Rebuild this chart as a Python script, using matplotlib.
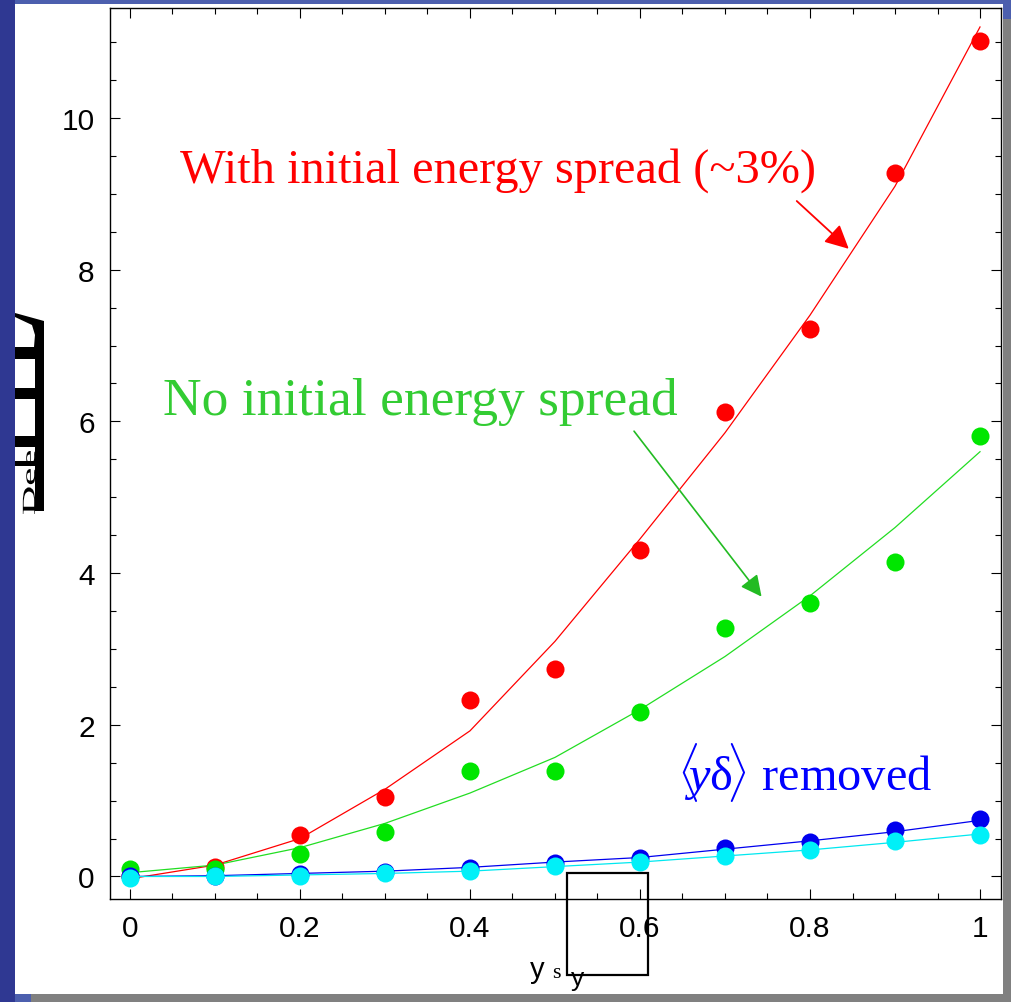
import matplotlib
matplotlib.use("Agg")
import matplotlib.pyplot as plt
from matplotlib.patches import Rectangle, FancyArrowPatch, Polygon, PathPatch
from matplotlib.ticker import MultipleLocator
from matplotlib.textpath import TextPath
from matplotlib.font_manager import FontProperties
from matplotlib.transforms import Affine2D
from matplotlib.path import Path

plt.rcParams["mathtext.fontset"] = "custom"
plt.rcParams["mathtext.rm"] = "Liberation Serif"
plt.rcParams["mathtext.it"] = "Liberation Serif:italic"

# ---- data ----
x_vals = [0.0, 0.1, 0.2, 0.3, 0.4, 0.5, 0.6, 0.7, 0.8, 0.9, 1.0]
red_pts = [0.0, 0.12, 0.55, 1.05, 2.33, 2.73, 4.30, 6.12, 7.22, 9.27, 11.01]
red_fit = [-0.03, 0.15, 0.50, 1.15, 1.92, 3.10, 4.45, 5.85, 7.40, 9.10, 11.2]
green_pts = [0.10, 0.10, 0.30, 0.58, 1.39, 1.39, 2.17, 3.27, 3.61, 4.14, 5.81]
green_fit = [0.05, 0.15, 0.38, 0.70, 1.10, 1.57, 2.20, 2.90, 3.70, 4.60, 5.60]
blue_pts = [0.0, 0.01, 0.03, 0.06, 0.11, 0.18, 0.25, 0.37, 0.46, 0.61, 0.76]
blue_fit = [0.0, 0.01, 0.04, 0.07, 0.12, 0.19, 0.25, 0.36, 0.47, 0.59, 0.74]
cyan_pts = [-0.02, 0.0, 0.01, 0.04, 0.07, 0.14, 0.19, 0.27, 0.35, 0.47, 0.55]
cyan_fit = [0.0, 0.0, 0.02, 0.04, 0.07, 0.13, 0.19, 0.27, 0.35, 0.45, 0.56]
x_ticks = [0, 0.2, 0.4, 0.6, 0.8, 1]
x_ticklabels = ["0", "0.2", "0.4", "0.6", "0.8", "1"]
y_ticks = [0, 2, 4, 6, 8, 10]
y_ticklabels = ["0", "2", "4", "6", "8", "10"]

W, H = 1012, 1003
fig = plt.figure(figsize=(W / 100, H / 100), dpi=100)
fig.patch.set_facecolor("#4c5fae")

# pixel coordinates (origin top-left) -> display
PX = Affine2D().scale(1, -1).translate(0, H).scale(1 / 100) + fig.dpi_scale_trans

def px_rect(x0, y0, x1, y1, z=-10, **kw):
    fig.patches.append(Rectangle((x0, y0), x1 - x0, y1 - y0, transform=PX,
                                 figure=fig, zorder=z, **kw))

def px_poly(pts, z=10, **kw):
    fig.patches.append(Polygon(pts, closed=True, transform=PX, figure=fig, zorder=z, **kw))

# slide background pieces
px_rect(0, 0, 15, H, facecolor="#2f3892", edgecolor="none")
px_rect(1003, 20, W, H, facecolor="#808080", edgecolor="none")
px_rect(31, 995, W, H, facecolor="#808080", edgecolor="none")
px_rect(15, 5, 1003, 995, facecolor="white", edgecolor="none")

ax = fig.add_axes([110 / W, 1 - 900 / H, (1001 - 110) / W, (900 - 9) / H])
ax.set_facecolor("white")

ax.plot(x_vals, red_fit, color="#ff0000", lw=0.9, zorder=2)
ax.plot(x_vals, red_pts, "o", color="#ff0000", ms=13, mec="none", zorder=3)
ax.plot(x_vals, green_fit, color="#22dd22", lw=0.9, zorder=2)
ax.plot(x_vals, green_pts, "o", color="#00e600", ms=13, mec="none", zorder=3)
ax.plot(x_vals, blue_fit, color="#0000ee", lw=0.9, zorder=4)
ax.plot(x_vals, blue_pts, "o", color="#0000ee", ms=13, mec="none", zorder=5)
ax.plot(x_vals, cyan_fit, color="#00e8f0", lw=0.9, zorder=6)
ax.plot(x_vals, cyan_pts, "o", color="#00f0f8", ms=13, mec="none", zorder=7)

ax.set_xlim(-0.0235, 1.0247)
ax.set_ylim(-0.297, 11.45)
ax.set_xticks(x_ticks)
ax.set_xticklabels(x_ticklabels)
ax.set_yticks(y_ticks)
ax.set_yticklabels(y_ticklabels)
ax.xaxis.set_minor_locator(MultipleLocator(0.05))
ax.yaxis.set_minor_locator(MultipleLocator(0.5))
ax.tick_params(which="both", direction="in", top=True, right=True, width=0.8)
ax.tick_params(which="major", length=7, labelsize=21.5, pad=11)
ax.tick_params(which="minor", length=4)
for lab in ax.get_xticklabels() + ax.get_yticklabels():
    lab.set_fontfamily("Liberation Sans")
for s in ax.spines.values():
    s.set_linewidth(1.0)

serif = "Liberation Serif"
ax.text(0.059, 9.16, "With initial energy spread (~3%)", color="#ff0000",
        fontsize=34.8, family=serif, va="baseline", ha="left")
ax.text(0.039, 6.1, "No initial energy spread", color="#33cc33",
        fontsize=38.5, family=serif, va="baseline", ha="left")
ax.text(0.643, 1.15, r"$\langle\!\!\mathit{y}\mathrm{\delta}\!\rangle$ removed",
        color="#0000ff", fontsize=34.8, family=serif, va="baseline", ha="left")

ax.add_patch(FancyArrowPatch((0.782, 8.93), (0.848, 8.25), arrowstyle="-|>",
                             mutation_scale=36, color="#ff0000", lw=1.3, zorder=8))
ax.add_patch(FancyArrowPatch((0.591, 5.9), (0.745, 3.66), arrowstyle="-|>",
                             mutation_scale=32, color="#22bb22", lw=1.2, zorder=8))

# x label with broken glyph box
fig.text(530 / W, 1 - 978 / H, "y", fontsize=21, family="Liberation Sans",
         va="baseline", ha="left", zorder=10)
fig.text(552 / W, 1 - 978 / H, "s", fontsize=16, family=serif, va="baseline",
         ha="left", zorder=10)
fig.text(571 / W, 1 - 986 / H, "y", fontsize=19, family="Liberation Sans",
         va="baseline", ha="left", zorder=10)
px_rect(567, 874, 648, 976, z=10, facecolor="none", edgecolor="black", lw=1.6)

# y label with broken glyph (approximate shapes)
k = dict(facecolor="black", edgecolor="none")
px_poly([(15, 314), (44, 322), (44, 348), (34, 348), (35, 336), (32, 326), (15, 318)], **k)
px_rect(15, 348, 44, 360, z=10, **k)
px_rect(35, 360, 44, 390, z=10, **k)
px_rect(15, 389, 44, 400, z=10, **k)
px_rect(35, 400, 44, 437, z=10, **k)
px_rect(15, 437, 44, 448, z=10, **k)
px_rect(35, 448, 44, 512, z=10, **k)
px_rect(15, 462, 35, 467, z=10, **k)
px_rect(21, 467, 35, 516, z=10.5, facecolor="white", edgecolor="none")
tp = TextPath((0, 0), "Dee", size=1, prop=FontProperties(family=serif))
bb = tp.get_extents()
sx = 63 / bb.width
sy = 13 / 0.70
path = tp.transformed(Affine2D().translate(-bb.x0, 0).scale(sx, sy).rotate_deg(90))
verts = path.vertices.copy()
verts[:, 0] = 35 + verts[:, 0]
verts[:, 1] = 515 - verts[:, 1]
fig.patches.append(PathPatch(Path(verts, path.codes), transform=PX, figure=fig,
                             facecolor="black", edgecolor="none", zorder=11))

fig.savefig("out.png", dpi=100, facecolor=fig.get_facecolor())
